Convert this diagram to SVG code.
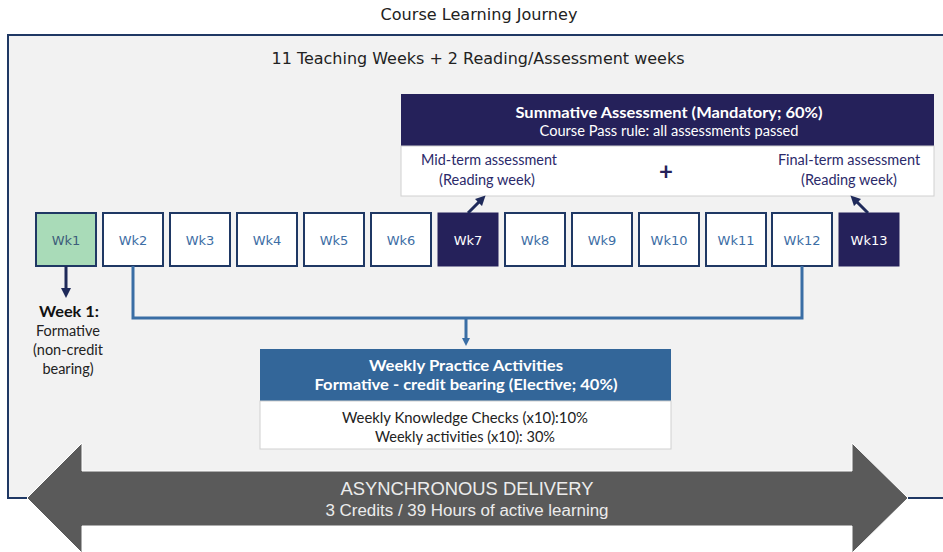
<svg xmlns="http://www.w3.org/2000/svg" width="943" height="552" viewBox="0 0 943 552">
<defs>
<style>
.t{font-family:"DejaVu Sans",Verdana,sans-serif;fill:#222;}
.wk{fill:#fff;stroke:#1f3864;stroke-width:2;}
.wkt{font-family:"DejaVu Sans",Verdana,sans-serif;font-size:13px;fill:#3d6ea5;text-anchor:middle;}
.dark{fill:#25215a;stroke:#25215a;}
.g{font-family:Lato,"Open Sans",sans-serif;text-anchor:middle;}
.conn{fill:none;stroke:#3a6ea5;stroke-width:3;}
.nav{fill:none;stroke:#1f2a5a;stroke-width:3;}
</style>
<marker id="ab" markerWidth="8" markerHeight="8" refX="4" refY="4" orient="auto" markerUnits="userSpaceOnUse" viewBox="0 0 8 8"><path d="M0,0 L8,4 L0,8 Z" fill="#3a6ea5"/></marker>
<marker id="an" markerWidth="10" markerHeight="10" refX="5" refY="5" orient="auto" markerUnits="userSpaceOnUse" viewBox="0 0 10 10"><path d="M0,0 L10,5 L0,10 Z" fill="#1f2a5a"/></marker>
</defs>
<rect width="943" height="552" fill="#fff"/>
<text class="t" x="479" y="20" font-size="15" text-anchor="middle" textLength="197" lengthAdjust="spacingAndGlyphs">Course Learning Journey</text>
<rect id="frame" x="8" y="35" width="945" height="463" fill="#f2f2f2" stroke="#1f3864" stroke-width="2"/>
<text class="t" x="478" y="64" font-size="16" text-anchor="middle" textLength="413" lengthAdjust="spacingAndGlyphs">11 Teaching Weeks + 2 Reading/Assessment weeks</text>

<g id="summative">
<rect x="401" y="94" width="533" height="52" fill="#25215a"/>
<rect x="401" y="146" width="533" height="50" fill="#fff" stroke="#d0d0d0" stroke-width="1"/>
<text class="g" x="669" y="118" font-size="15.5" font-weight="bold" fill="#fff" textLength="307" lengthAdjust="spacingAndGlyphs">Summative Assessment (Mandatory; 60%)</text>
<text class="g" x="669" y="136" font-size="14.5" fill="#fff" textLength="259" lengthAdjust="spacingAndGlyphs">Course Pass rule: all assessments passed</text>
<text class="g" x="489" y="165" font-size="14.5" fill="#2b2a6a" textLength="136" lengthAdjust="spacingAndGlyphs">Mid-term assessment</text>
<text class="g" x="487" y="185" font-size="14.5" fill="#2b2a6a">(Reading week)</text>
<text class="g" x="666" y="180" font-size="24" font-weight="bold" fill="#25215a">+</text>
<text class="g" x="849" y="165" font-size="14.5" fill="#2b2a6a">Final-term assessment</text>
<text class="g" x="849" y="185" font-size="14.5" fill="#2b2a6a">(Reading week)</text>
</g>

<g id="weeks">
<g id="wk1"><rect x="36" y="213" width="60" height="53" fill="#a9dbb8" stroke="#1f3864" stroke-width="2"/><text class="wkt" x="66" y="245" style="fill:#3d5d7a">Wk1</text></g>
<g id="wk2"><rect class="wk" x="103" y="213" width="60" height="53"/><text class="wkt" x="133" y="245">Wk2</text></g>
<g id="wk3"><rect class="wk" x="170" y="213" width="60" height="53"/><text class="wkt" x="200" y="245">Wk3</text></g>
<g id="wk4"><rect class="wk" x="237" y="213" width="60" height="53"/><text class="wkt" x="267" y="245">Wk4</text></g>
<g id="wk5"><rect class="wk" x="304" y="213" width="60" height="53"/><text class="wkt" x="334" y="245">Wk5</text></g>
<g id="wk6"><rect class="wk" x="371" y="213" width="60" height="53"/><text class="wkt" x="401" y="245">Wk6</text></g>
<g id="wk7"><rect class="dark" x="438" y="213" width="60" height="53"/><text class="wkt" x="468" y="245" style="fill:#fff">Wk7</text></g>
<g id="wk8"><rect class="wk" x="505" y="213" width="60" height="53"/><text class="wkt" x="535" y="245">Wk8</text></g>
<g id="wk9"><rect class="wk" x="572" y="213" width="60" height="53"/><text class="wkt" x="602" y="245">Wk9</text></g>
<g id="wk10"><rect class="wk" x="639" y="213" width="60" height="53"/><text class="wkt" x="669" y="245">Wk10</text></g>
<g id="wk11"><rect class="wk" x="706" y="213" width="60" height="53"/><text class="wkt" x="736" y="245">Wk11</text></g>
<g id="wk12"><rect class="wk" x="772" y="213" width="60" height="53"/><text class="wkt" x="802" y="245">Wk12</text></g>
<g id="wk13"><rect class="dark" x="839" y="213" width="60" height="53"/><text class="wkt" x="869" y="245" style="fill:#fff">Wk13</text></g>
</g>

<g id="connectors">
<path class="conn" d="M133,266 V318 H802 V266"/>
<path class="conn" d="M466,318 V342" marker-end="url(#ab)"/>
<path class="nav" d="M66,266 V293" marker-end="url(#an)"/>
<path class="nav" d="M468,213 L482,199" marker-end="url(#an)"/>
<path class="nav" d="M868,213 L854,199" marker-end="url(#an)"/>
</g>

<g id="week1note">
<text class="g" x="69" y="317" font-size="16" font-weight="bold" fill="#111" textLength="60" lengthAdjust="spacingAndGlyphs">Week 1:</text>
<text class="g" x="68" y="336" font-size="14.5" fill="#222">Formative</text>
<text class="g" x="68" y="355" font-size="14.5" fill="#222">(non-credit</text>
<text class="g" x="68" y="374" font-size="14.5" fill="#222">bearing)</text>
</g>

<g id="practice">
<rect x="260" y="349" width="411" height="52" fill="#336699"/>
<rect x="260" y="401" width="411" height="48" fill="#fff" stroke="#d0d0d0" stroke-width="1"/>
<text class="g" x="466" y="371" font-size="16" font-weight="bold" fill="#fff" textLength="194" lengthAdjust="spacingAndGlyphs">Weekly Practice Activities</text>
<text class="g" x="466" y="390" font-size="16" font-weight="bold" fill="#fff" textLength="303" lengthAdjust="spacingAndGlyphs">Formative - credit bearing (Elective; 40%)</text>
<text class="g" x="465" y="423" font-size="14.5" fill="#222" textLength="246" lengthAdjust="spacingAndGlyphs">Weekly Knowledge Checks (x10):10%</text>
<text class="g" x="465" y="442" font-size="14.5" fill="#222" textLength="180" lengthAdjust="spacingAndGlyphs">Weekly activities (x10): 30%</text>
</g>

<g id="delivery">
<path d="M27,498 L82,443 V471 H852 V443 L908,498 L852,553 V526 H82 V553 Z" fill="#5a5a5a" stroke="#fff" stroke-width="1"/>
<text x="467" y="495" font-family="'Liberation Sans',Arial,sans-serif" font-size="18" fill="#ececec" text-anchor="middle" textLength="253" lengthAdjust="spacingAndGlyphs">ASYNCHRONOUS DELIVERY</text>
<text x="467" y="516" font-family="'Liberation Sans',Arial,sans-serif" font-size="16" fill="#ececec" text-anchor="middle" textLength="283" lengthAdjust="spacingAndGlyphs">3 Credits / 39 Hours of active learning</text>
</g>
</svg>
